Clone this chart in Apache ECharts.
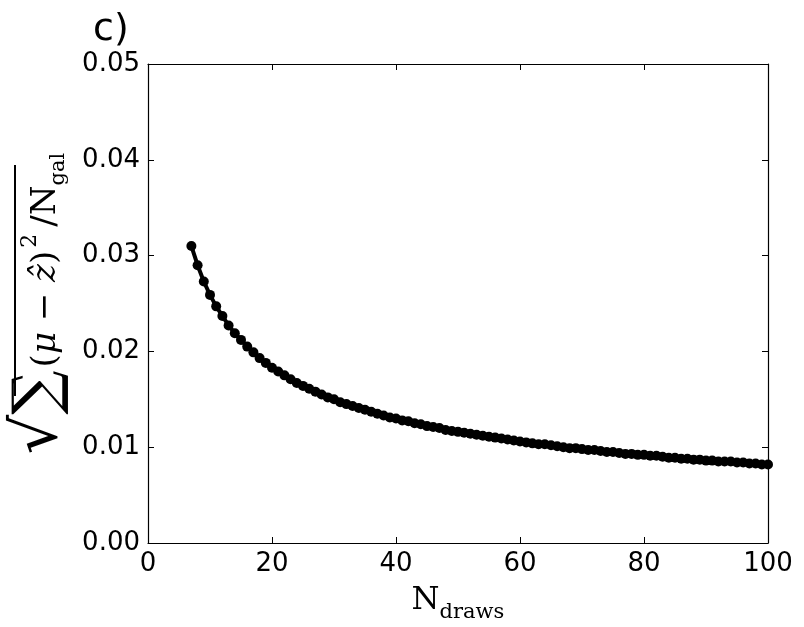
<!DOCTYPE html>
<html>
<head>
<meta charset="utf-8">
<script src="https://cdn.jsdelivr.net/npm/echarts@6/dist/echarts.min.js"></script>
<style>
  html, body { margin: 0; padding: 0; background: #fff; }
  #chart { width: 804px; height: 627px; }
</style>
</head>
<body>
<div id="chart"></div>
<script>
// number of draws (x) and rms error (y)
var nDraws = [7, 8, 9, 10, 11, 12, 13, 14, 15, 16, 17, 18, 19, 20, 21, 22, 23, 24, 25, 26,
  27, 28, 29, 30, 31, 32, 33, 34, 35, 36, 37, 38, 39, 40, 41, 42, 43, 44, 45, 46,
  47, 48, 49, 50, 51, 52, 53, 54, 55, 56, 57, 58, 59, 60, 61, 62, 63, 64, 65, 66,
  67, 68, 69, 70, 71, 72, 73, 74, 75, 76, 77, 78, 79, 80, 81, 82, 83, 84, 85, 86,
  87, 88, 89, 90, 91, 92, 93, 94, 95, 96, 97, 98, 99, 100];
var rmsErr = [0.0310, 0.0290, 0.0273, 0.0259, 0.0247, 0.0237, 0.0227, 0.0219, 0.0212, 0.0205,
  0.0199, 0.0193, 0.0188, 0.0183, 0.0179, 0.0175, 0.0171, 0.0167, 0.0164, 0.0161,
  0.0158, 0.0155, 0.0152, 0.0150, 0.0147, 0.0145, 0.0143, 0.0141, 0.0139, 0.0137,
  0.0135, 0.0133, 0.0131, 0.0130, 0.0128, 0.0127, 0.0125, 0.0124, 0.0122, 0.0121,
  0.0120, 0.0118, 0.0117, 0.0116, 0.0115, 0.0114, 0.0113, 0.0112, 0.0111, 0.0110,
  0.0109, 0.0108, 0.0107, 0.0106, 0.0105, 0.0104, 0.0103, 0.0103, 0.0102, 0.0101,
  0.0100, 0.0099, 0.0099, 0.0098, 0.0097, 0.0097, 0.0096, 0.0095, 0.0095, 0.0094,
  0.0093, 0.0093, 0.0092, 0.0092, 0.0091, 0.0091, 0.0090, 0.0089, 0.0089, 0.0088,
  0.0088, 0.0087, 0.0087, 0.0086, 0.0086, 0.0085, 0.0085, 0.0085, 0.0084, 0.0084,
  0.0083, 0.0083, 0.0082, 0.0082];
var xTicks = [0, 20, 40, 60, 80, 100];
var yTicks = [0.00, 0.01, 0.02, 0.03, 0.04, 0.05];

var points = nDraws.map(function (n, i) { return [n, rmsErr[i]]; });

var chart = echarts.init(document.getElementById("chart"), null, { renderer: "canvas" });

var tickFont = { fontFamily: "DejaVu Sans", fontSize: 26, color: "#000" };
var mathFont = "DejaVu Serif";
var frameLine = { show: true, onZero: false, lineStyle: { color: "#000", width: 1.2 } };
var frameTick = { show: true, inside: true, length: 6, lineStyle: { color: "#000" } };

var option = {
  animation: false,
  backgroundColor: "#fff",
  title: {
    text: "c)",
    left: 88,
    top: 6,
    textStyle: { fontFamily: "DejaVu Sans", fontSize: 38, fontWeight: "normal", color: "#000" }
  },
  grid: { left: 148, right: 36, top: 64, bottom: 84, containLabel: false, outerBoundsMode: "none" },
  xAxis: [
    {
      type: "value",
      min: xTicks[0],
      max: xTicks[xTicks.length - 1],
      interval: 20,
      axisLine: frameLine,
      axisTick: frameTick,
      axisLabel: Object.assign({ margin: 8 }, tickFont),
      splitLine: { show: false },
      name: "{n|N}{s|draws}",
      nameLocation: "middle",
      nameGap: 42,
      nameTextStyle: {
        rich: {
          n: { fontFamily: mathFont, fontSize: 32, color: "#000", verticalAlign: "bottom" },
          s: { fontFamily: mathFont, fontSize: 21, color: "#000", verticalAlign: "bottom", padding: [0, 0, -6, 0] }
        }
      }
    },
    {
      type: "value",
      position: "top",
      min: 0, max: 100, interval: 20,
      axisLine: frameLine,
      axisTick: frameTick,
      axisLabel: { show: false },
      splitLine: { show: false }
    }
  ],
  yAxis: [
    {
      type: "value",
      min: yTicks[0],
      max: yTicks[yTicks.length - 1],
      interval: 0.01,
      axisLine: frameLine,
      axisTick: frameTick,
      axisLabel: Object.assign({ margin: 8, formatter: function (v) { return v.toFixed(2); } }, tickFont),
      splitLine: { show: false },
      name: "{r|√}{m|∑}{t|(}{i|μ}{t| − }{i|ẑ}{t|)}{p|2}{t|/N}{b|gal}",
      nameLocation: "middle",
      nameRotate: 90,
      nameGap: 72,
      nameTextStyle: {
        rich: {
          r: { fontFamily: mathFont, fontSize: 62, color: "#000", verticalAlign: "bottom" },
          m: { fontFamily: mathFont, fontSize: 62, color: "#000", verticalAlign: "bottom", padding: [0, 3, 0, 0] },
          t: { fontFamily: mathFont, fontSize: 34, color: "#000", verticalAlign: "bottom", padding: [0, 0, 8, 0] },
          i: { fontFamily: mathFont, fontSize: 34, fontStyle: "italic", color: "#000", verticalAlign: "bottom", padding: [0, 0, 8, 0] },
          p: { fontFamily: mathFont, fontSize: 22, color: "#000", verticalAlign: "bottom", padding: [0, 7, 30, 3] },
          b: { fontFamily: mathFont, fontSize: 21, color: "#000", verticalAlign: "bottom", padding: [0, 0, 2, 0] }
        }
      }
    },
    {
      type: "value",
      position: "right",
      min: 0, max: 0.05, interval: 0.01,
      axisLine: frameLine,
      axisTick: frameTick,
      axisLabel: { show: false },
      splitLine: { show: false }
    }
  ],
  graphic: [
    {
      type: "line",
      shape: { x1: 15, y1: 165, x2: 15, y2: 396 },
      style: { stroke: "#000", lineWidth: 2 }
    }
  ],
  series: [
    {
      type: "line",
      data: points,
      xAxisIndex: 0,
      yAxisIndex: 0,
      symbol: "circle",
      symbolSize: 10,
      lineStyle: { color: "#000", width: 4 },
      itemStyle: { color: "#000" }
    }
  ]
};

chart.setOption(option);
</script>
</body>
</html>
